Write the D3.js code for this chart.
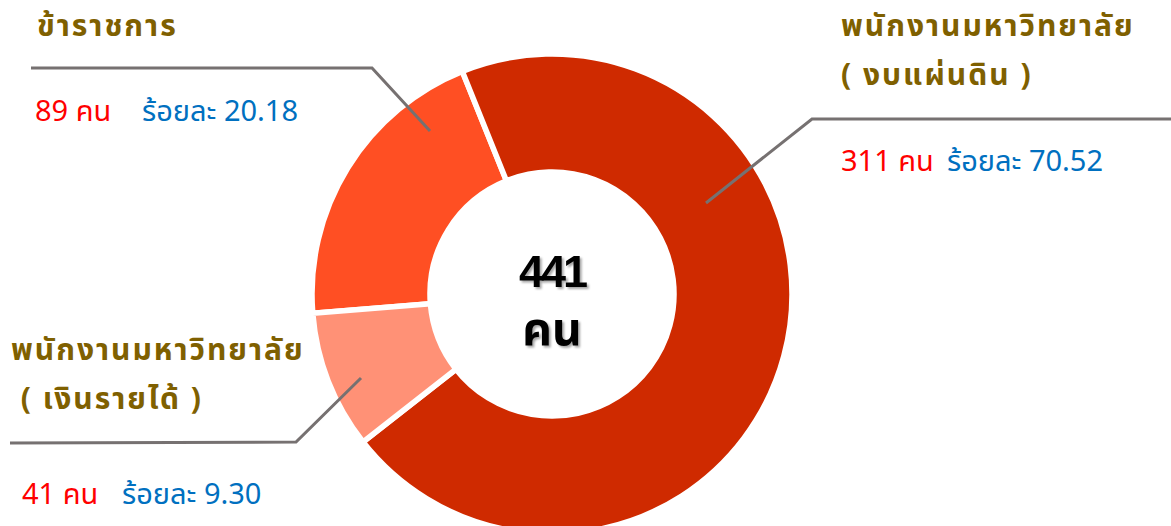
<!DOCTYPE html>
<html>
<head>
<meta charset="utf-8">
<script src="https://cdn.jsdelivr.net/npm/d3@7"></script>
<style>
	html, body { margin: 0; padding: 0; background: #fff; }
	svg { display: block; }
	text { font-family: "Noto Sans Thai", "Noto Sans", "DejaVu Sans", sans-serif; }
</style>
</head>
<body>
<svg id="chart"></svg>
<script>
// ข้อมูลจากภาพ
var categories = [ 'ข้าราชการ', 'พนักงานมหาวิทยาลัย (งบแผ่นดิน)', 'พนักงานมหาวิทยาลัย (เงินรายได้)' ];
var titleLines = [ [ 'ข้าราชการ' ], [ 'พนักงานมหาวิทยาลัย', '( งบแผ่นดิน )' ], [ 'พนักงานมหาวิทยาลัย', ' ( เงินรายได้ )' ] ];
var values = [ 89, 311, 41 ];
var percents = [ '20.18', '70.52', '9.30' ];
var total = 441;

var W = 1171, H = 526,
	cx = 552, cy = 294,
	outerR = 240, innerR = 122;

var colors = [ '#ff4f23', '#cf2a00', '#ff9176' ];

// ตำแหน่งป้าย / เส้นโยง
var labelPos = [
	{ tx: 37, ty: 36, vx: 35, vy: 121, pctX: 142, line: [ [ 31, 68 ], [ 372, 68 ], [ 430, 131 ] ] },
	{ tx: 841, ty: 36, vx: 841, vy: 171, pctX: 947, line: [ [ 1171, 119 ], [ 812, 119 ], [ 706, 203 ] ] },
	{ tx: 11, ty: 360, vx: 22, vy: 504, pctX: 122, line: [ [ 10, 443 ], [ 296, 442 ], [ 361, 378 ] ] }
];

var svg = d3.select( '#chart' )
	.attr( 'width', W )
	.attr( 'height', H );

var defs = svg.append( 'defs' );
defs.append( 'filter' )
	.attr( 'id', 'shadow' )
	.attr( 'x', '-20%' ).attr( 'y', '-20%' )
	.attr( 'width', '140%' ).attr( 'height', '140%' )
	.append( 'feDropShadow' )
	.attr( 'dx', 2 ).attr( 'dy', 2 )
	.attr( 'stdDeviation', 1 )
	.attr( 'flood-color', '#000' )
	.attr( 'flood-opacity', 0.35 );

var startAngle = -94.6 * Math.PI / 180;
var pie = d3.pie()
	.sort( null )
	.startAngle( startAngle )
	.endAngle( startAngle + 2 * Math.PI );

var arc = d3.arc()
	.innerRadius( innerR )
	.outerRadius( outerR );

var g = svg.append( 'g' ).attr( 'transform', 'translate(' + cx + ',' + cy + ')' );

g.selectAll( 'path.slice' ).data( pie( values ) )
	.enter().append( 'path' )
	.attr( 'class', 'slice' )
	.attr( 'd', arc )
	.style( 'fill', function( d, i ) { return colors[ i ]; } )
	.style( 'stroke', '#fff' )
	.style( 'stroke-width', 5.5 );

// ตัวเลขรวมกลางวง
var centre = g.append( 'g' ).attr( 'class', 'total' ).attr( 'filter', 'url(#shadow)' );
centre.append( 'text' )
	.attr( 'x', 0 ).attr( 'y', -7 )
	.attr( 'text-anchor', 'middle' )
	.style( 'font-family', '"Liberation Sans", Arial, sans-serif' )
	.style( 'font-size', '45px' ).style( 'font-weight', 'bold' )
	.style( 'letter-spacing', '-3px' )
	.text( total );
centre.append( 'text' )
	.attr( 'x', 0 ).attr( 'y', 51 )
	.attr( 'text-anchor', 'middle' )
	.style( 'font-size', '46px' ).style( 'font-weight', 'bold' )
	.text( 'คน' );

// เส้นโยง
var line = d3.line();
svg.selectAll( 'path.leader' ).data( labelPos )
	.enter().append( 'path' )
	.attr( 'class', 'leader' )
	.attr( 'd', function( d ) { return line( d.line ); } )
	.style( 'fill', 'none' )
	.style( 'stroke', '#767171' )
	.style( 'stroke-width', 3 );

// ป้ายชื่อ
labelPos.forEach( function( p, i ) {
	titleLines[ i ].forEach( function( t, j ) {
		svg.append( 'text' )
			.attr( 'x', p.tx ).attr( 'y', p.ty + j * 49 )
			.style( 'font-size', '30px' ).style( 'font-weight', 'bold' )
			.style( 'letter-spacing', '2px' )
			.style( 'fill', '#7f6000' )
			.style( 'white-space', 'pre' )
			.text( t );
	} );
	svg.append( 'text' )
		.attr( 'x', p.vx ).attr( 'y', p.vy )
		.style( 'font-size', '29px' )
		.style( 'fill', '#ff0000' )
		.text( values[ i ] + ' คน' );
	svg.append( 'text' )
		.attr( 'x', p.pctX ).attr( 'y', p.vy )
		.style( 'font-size', '29px' )
		.style( 'fill', '#0070c0' )
		.text( 'ร้อยละ ' + percents[ i ] );
} );
</script>
</body>
</html>
